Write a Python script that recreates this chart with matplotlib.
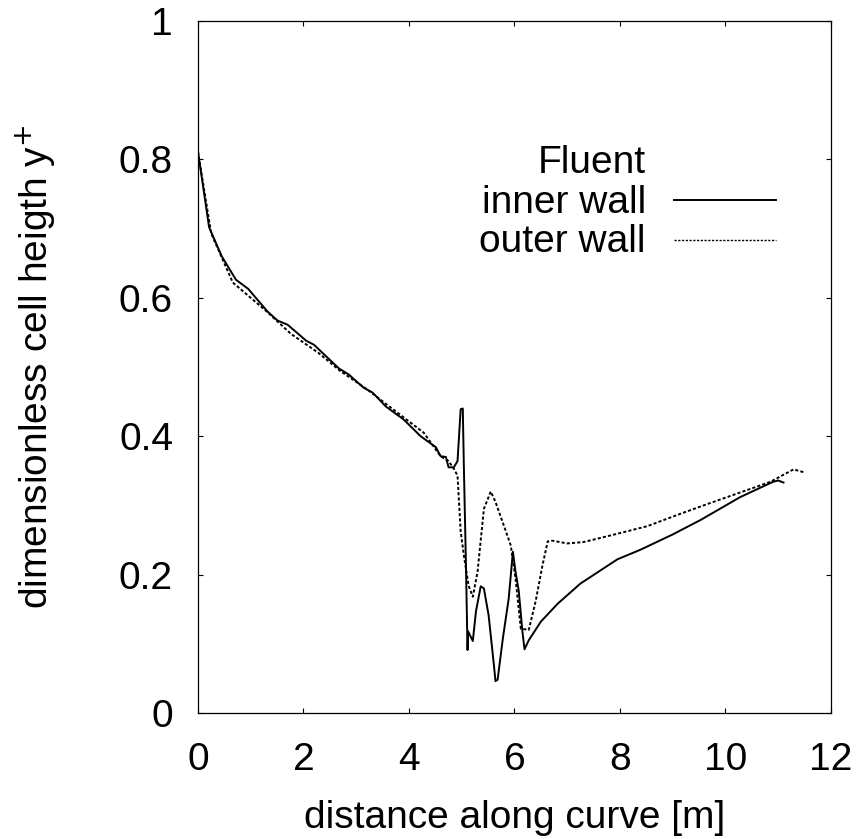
import matplotlib
matplotlib.use("Agg")
import matplotlib.pyplot as plt
from matplotlib.lines import Line2D

plt.rcParams['font.family'] = ['Liberation Sans', 'DejaVu Sans']

# inner wall (solid)
inner_x = [0, 0.21, 0.45, 0.72, 0.95, 1.32, 1.51, 1.70, 2.05, 2.2, 2.67, 2.86,
           3.14, 3.31, 3.56, 3.90, 4.22, 4.51, 4.6, 4.70, 4.75, 4.85, 4.92, 4.98,
           5.02, 5.04, 5.08, 5.11, 5.12, 5.21, 5.27, 5.36, 5.42, 5.51, 5.61, 5.64,
           5.68, 5.78, 5.89, 5.97, 6.02, 6.08, 6.15, 6.19, 6.27, 6.5, 6.82, 7.25,
           7.95, 8.39, 9.0, 9.53, 10.28, 10.9, 11.0, 11.1]
inner_y = [0.811, 0.702, 0.66, 0.626, 0.613, 0.580, 0.567, 0.561, 0.538, 0.532, 0.498, 0.489,
           0.470, 0.463, 0.443, 0.424, 0.400, 0.384, 0.371, 0.37, 0.355, 0.355, 0.364, 0.439,
           0.44, 0.357, 0.213, 0.091, 0.118, 0.104, 0.147, 0.183, 0.18, 0.141, 0.069, 0.046,
           0.048, 0.108, 0.165, 0.233, 0.204, 0.177, 0.118, 0.092, 0.105, 0.132, 0.158, 0.187,
           0.222, 0.236, 0.258, 0.279, 0.312, 0.334, 0.336, 0.333]

# outer wall (dashed)
outer_x = [0, 0.25, 0.66, 1.29, 1.76, 2.29, 2.7, 3.2, 3.66, 4.28, 4.6, 4.75, 4.85,
           4.92, 4.98, 5.04, 5.13, 5.21, 5.30, 5.42, 5.55, 5.64, 5.83, 5.93, 6.02,
           6.12, 6.27, 6.40, 6.53, 6.63, 6.72, 7.0, 7.31, 7.95, 8.52, 9.15, 9.66,
           10.85, 11.29, 11.48]
outer_y = [0.811, 0.693, 0.622, 0.581, 0.548, 0.52, 0.494, 0.468, 0.441, 0.405, 0.371, 0.364, 0.353,
           0.343, 0.262, 0.228, 0.184, 0.168, 0.204, 0.295, 0.320, 0.305, 0.264, 0.242, 0.194,
           0.122, 0.12, 0.161, 0.213, 0.248, 0.249, 0.245, 0.247, 0.259, 0.270, 0.288, 0.302,
           0.334, 0.352, 0.348]

xticks = [0, 2, 4, 6, 8, 10, 12]
yticks = [0, 0.2, 0.4, 0.6, 0.8, 1]
ytick_labels = ['0', '0.2', '0.4', '0.6', '0.8', '1']

FS = 28

fig = plt.figure(figsize=(8.62, 8.39), dpi=100)
ax = fig.add_axes([0.2297, 0.1502, 0.7343, 0.8248])

ax.plot(inner_x, inner_y, color='black', lw=1.4)
ax.plot(outer_x, outer_y, color='black', lw=1.4, linestyle=(0, (1.6, 1.1)))

ax.set_xlim(0, 12)
ax.set_ylim(0, 1)
ax.set_xticks(xticks)
ax.set_xticklabels([str(t) for t in xticks])
ax.set_yticks(yticks)
ax.set_yticklabels(ytick_labels)
ax.tick_params(direction='in', length=3.6, width=0.8, labelsize=FS,
               top=True, right=True)
ax.tick_params(axis='x', pad=21)
ax.tick_params(axis='y', pad=18)
for s in ax.spines.values():
    s.set_linewidth(0.9)

ax.set_xlabel('distance along curve [m]', fontsize=FS, labelpad=16)
ax.set_ylabel('dimensionless cell heigth y$^{+}$', fontsize=FS, labelpad=44)

# legend, gnuplot style
ax.text(0.7075, 0.780, 'Fluent', transform=ax.transAxes, ha='right', va='baseline', fontsize=FS)
ax.text(0.7075, 0.7225, 'inner wall', transform=ax.transAxes, ha='right', va='baseline', fontsize=FS)
ax.text(0.7075, 0.666, 'outer wall', transform=ax.transAxes, ha='right', va='baseline', fontsize=FS)
ax.add_line(Line2D([0.752, 0.913], [0.742, 0.742], transform=ax.transAxes,
                   color='black', lw=1.4))
ax.add_line(Line2D([0.752, 0.913], [0.684, 0.684], transform=ax.transAxes,
                   color='black', lw=1.0, linestyle=(0, (1.6, 1.1))))

fig.savefig('out.png', dpi=100)
